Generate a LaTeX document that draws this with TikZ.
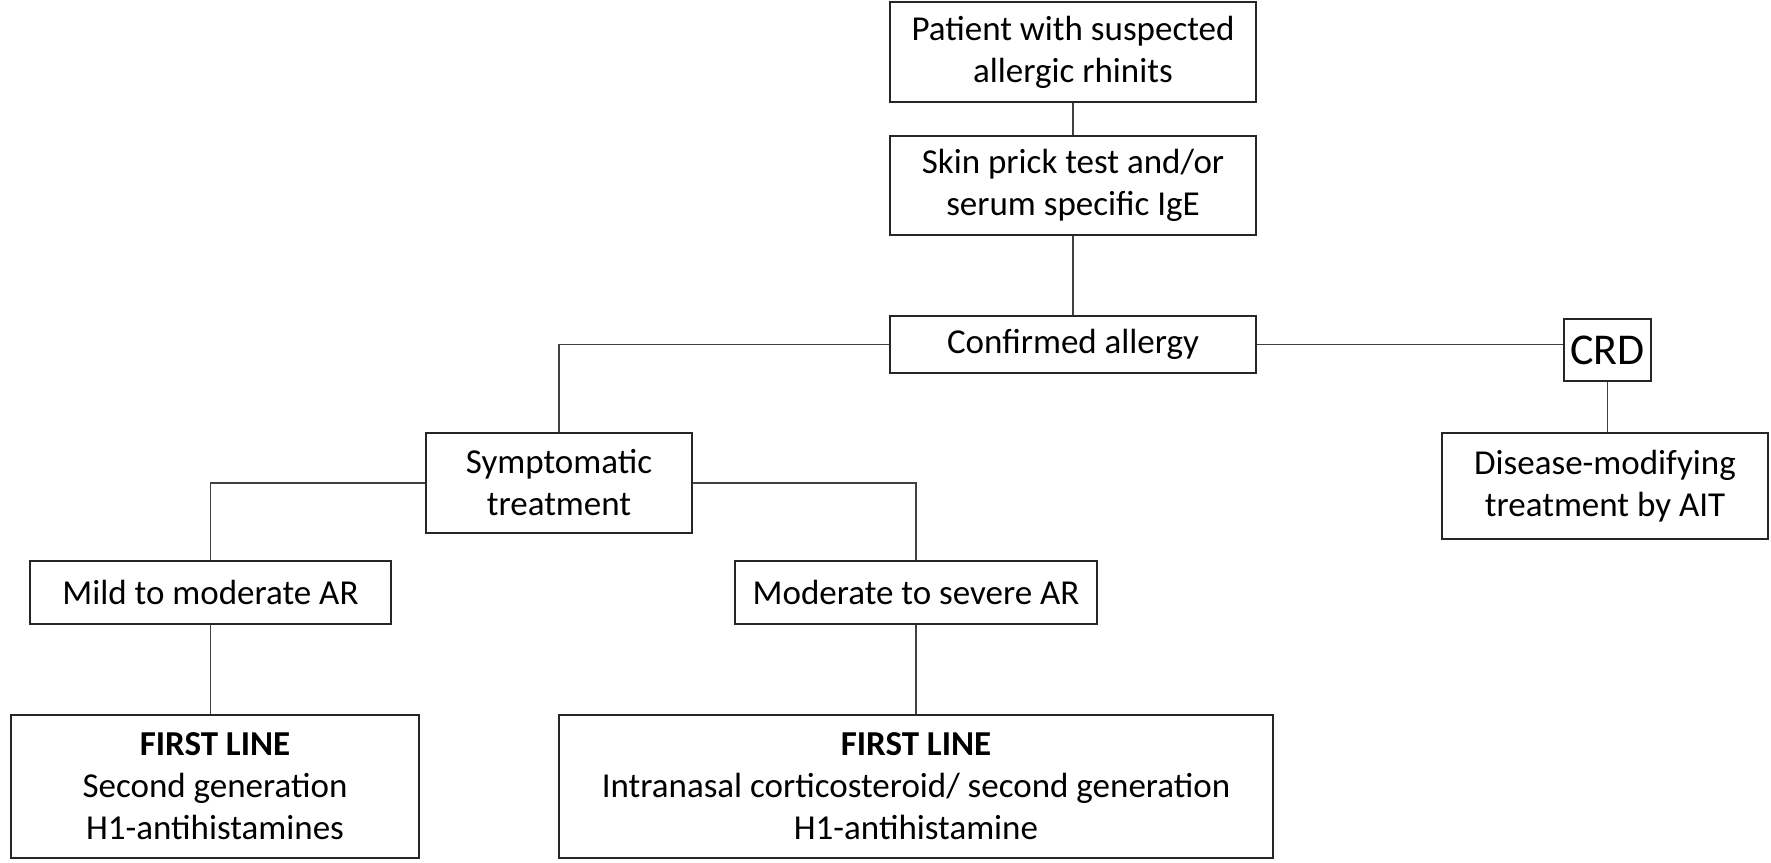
\documentclass[tikz,border=0pt]{standalone}
\usepackage{fontspec}
\setmainfont{Carlito}
\begin{document}
\begin{tikzpicture}[x=1pt,y=-1pt,
  box/.style={draw=black!85,line width=1.8pt,align=center,inner sep=0pt,
    font=\fontsize{35}{42}\selectfont},
  link/.style={draw=black!75,line width=1.8pt}]
\useasboundingbox[fill=white] (0,0) rectangle (1771,862);
\node[box,minimum width=366pt,minimum height=100pt] (p1) at (1073,52) {Patient with suspected\\allergic rhinits};
\node[box,minimum width=366pt,minimum height=99pt] (p2) at (1073,185.5) {Skin prick test and/or\\serum specific IgE};
\node[box,minimum width=366pt,minimum height=57pt] (conf) at (1073,344.5) {Confirmed allergy};
\node[box,minimum width=266pt,minimum height=100pt] (sym) at (559,483) {Symptomatic\\treatment};
\node[box,minimum width=361pt,minimum height=63pt] (mild) at (210.5,592.5) {Mild to moderate AR};
\node[box,minimum width=362pt,minimum height=63pt] (mod) at (916,592.5) {Moderate to severe AR};
\node[box,minimum width=408pt,minimum height=143pt] (fl1) at (215,786.5) {\textbf{FIRST LINE}\\Second generation\\H1-antihistamines};
\node[box,minimum width=714pt,minimum height=143pt] (fl2) at (916,786.5) {\textbf{FIRST LINE}\\Intranasal corticosteroid/ second generation\\H1-antihistamine};
\node[box,minimum width=87pt,minimum height=62pt,font=\fontsize{44}{50}\selectfont] (crd) at (1607.5,350) {CRD};
\node[box,minimum width=326pt,minimum height=106pt] (dis) at (1605,486) {Disease-modifying\\treatment by AIT};
\draw[link] (p1.south) -- (p2.north);
\draw[link] (p2.south) -- (conf.north);
\draw[link] (conf.west) -| (sym.north);
\draw[link] (conf.east) -- (conf.east -| crd.west);
\draw[link] (crd.south) -- (crd.south |- dis.north);
\draw[link] (sym.east) -| (mod.north);
\draw[link] (sym.west) -| (mild.north);
\draw[link] (mild.south) -- (mild.south |- fl1.north);
\draw[link] (mod.south) -- (fl2.north);
\end{tikzpicture}
\end{document}
